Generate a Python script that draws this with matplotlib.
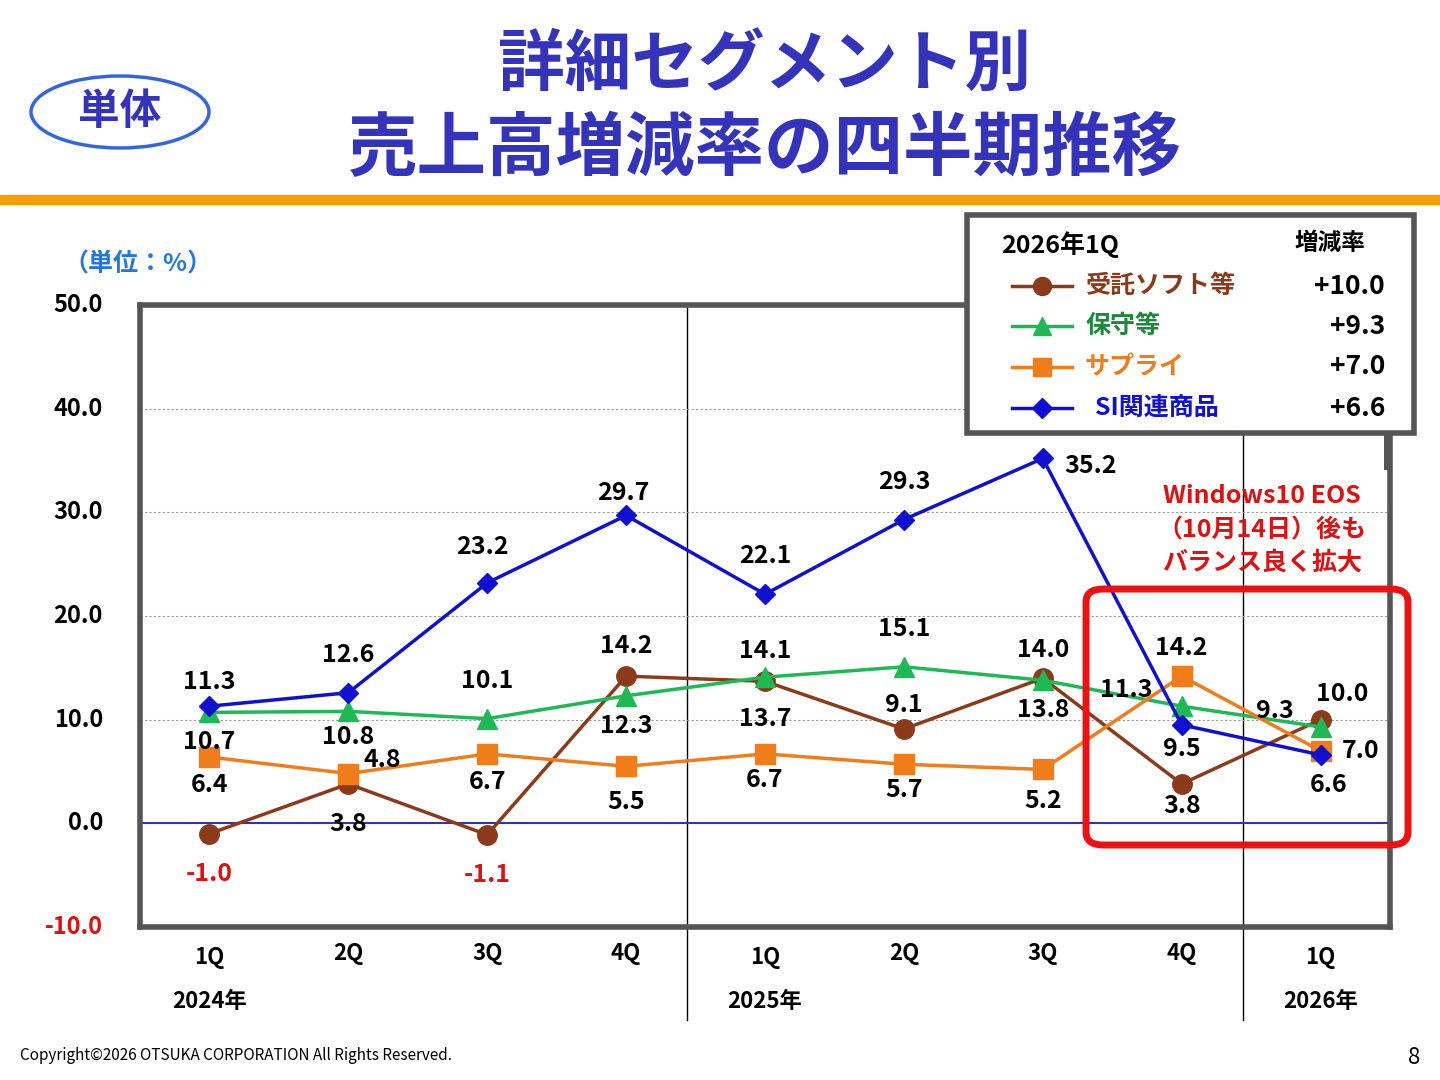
import matplotlib
matplotlib.use("Agg")
import matplotlib.pyplot as plt
from matplotlib.patches import FancyBboxPatch, Ellipse, Rectangle
from matplotlib.lines import Line2D

plt.rcParams['font.family'] = ['Noto Sans CJK JP', 'DejaVu Sans']

quarters = ["1Q", "2Q", "3Q", "4Q", "1Q", "2Q", "3Q", "4Q", "1Q"]
years = ["2024年", "2025年", "2026年"]
si = [11.3, 12.6, 23.2, 29.7, 22.1, 29.3, 35.2, 9.5, 6.6]
hoshu = [10.7, 10.8, 10.1, 12.3, 14.1, 15.1, 13.8, 11.3, 9.3]
supply = [6.4, 4.8, 6.7, 5.5, 6.7, 5.7, 5.2, 14.2, 7.0]
jutaku = [-1.0, 3.8, -1.1, 14.2, 13.7, 9.1, 14.0, 3.8, 10.0]
names = ["受託ソフト等", "保守等", "サプライ", "SI関連商品"]
latest = ["+10.0", "+9.3", "+7.0", "+6.6"]

# label offsets in pixels
off_si = [(0, 24), (0, 38), (-5, 36), (-3, 22), (0, 38), (0, 38), (48, -8), (0, -24), (8, -30)]
off_h = [(0, -30), (0, -26), (0, 38), (0, -30), (0, 26), (0, 38), (0, -30), (-55, 16), (-46, 16)]
off_s = [(0, -28), (34, 14), (0, -28), (0, -36), (0, -26), (0, -26), (0, -32), (0, 28), (40, 0)]
off_j = [(0, -40), (0, -40), (0, -40), (0, 30), (0, -38), (0, 24), (0, 28), (0, -22), (22, 26)]

fig = plt.figure(figsize=(14.4, 10.8), dpi=100)
ax = fig.add_axes([140/1440, 1-927/1080, 1250/1440, 622/1080])
x = list(range(len(quarters)))
ax.set_xlim(-0.5, 8.5)
ax.set_ylim(-10, 50)
for yv in [10, 20, 30, 40]:
    ax.axhline(yv, color='#999999', lw=0.8, ls=(0, (2, 2)))
ax.axhline(0, color='#3333aa', lw=1.5)
for s in ax.spines.values():
    s.set_color('#555555'); s.set_linewidth(4)
ax.set_xticks([]); ax.set_yticks([])
for yv in range(-10, 51, 10):
    fig.text(103/1440, (1-927/1080) + (yv+10)/60*622/1080, f"{yv:.1f}", ha='right', va='center',
             fontsize=17, fontweight='bold', color='#dd1111' if yv < 0 else 'black')

series = [(jutaku, '#8B3A1A', 'o', off_j), (hoshu, '#1DB954', '^', off_h),
          (supply, '#F07D1A', 's', off_s), (si, '#1010D0', 'D', off_si)]
order = [3, 1, 2, 0]
for i in order:
    vals, col, mk, offs = series[i]
    ms = 14 if mk != 'D' else 10
    ax.plot(x, vals, color=col, lw=2.5, marker=mk, ms=ms, zorder=3 + i)
for i in order:
    vals, col, mk, offs = series[i]
    for xi, v, o in zip(x, vals, offs):
        ax.annotate(f"{v:.1f}", (xi, v), xytext=o, textcoords='offset pixels', ha='center', va='center',
                    fontsize=18, fontweight='bold', color='#dd1111' if v < 0 else 'black', zorder=10)

for xv in [3.44, 7.44]:
    ax.plot([xv, xv], [-10, 50], color='black', lw=1, clip_on=False, zorder=1)
    ax.plot([xv, xv], [-10, -19], color='black', lw=1, clip_on=False)
for xi, q in zip(x, quarters):
    ax.text(xi, -12.9 if xi in (0, 4, 8) else -12.6, q, ha='center', va='center', fontsize=16, fontweight='bold')
for xi, yr in zip([0, 4, 8], years):
    ax.text(xi, -17.2, yr, ha='center', va='center', fontsize=16, fontweight='bold')

# title
fig.text(765/1440, 1-65/1080, "詳細セグメント別", ha='center', va='center', fontsize=48, fontweight='bold', color='#3333bb')
fig.text(765/1440, 1-150/1080, "売上高増減率の四半期推移", ha='center', va='center', fontsize=50, fontweight='bold', color='#3333bb')
fig.add_artist(Ellipse((120/1440, 1-112/1080), 178/1440, 72/1080, transform=fig.transFigure,
                       fill=False, ec='#3366dd', lw=2.5))
fig.text(120/1440, 1-112/1080, "単体", ha='center', va='center', fontsize=30, fontweight='bold', color='#3333bb')
fig.add_artist(Rectangle((0, 1-204/1080), 1, 9/1080, transform=fig.transFigure, color='#F5A000'))
fig.text(138/1440, 1-265/1080, "（単位：%）", ha='center', va='center', fontsize=18, fontweight='bold', color='#2277dd')
fig.text(20/1440, 1-1055/1080, "Copyright©2026 OTSUKA CORPORATION All Rights Reserved.", fontsize=11, va='center')
fig.text(1420/1440, 1-1057/1080, "8", fontsize=16, ha='right', va='center')

# legend box
fig.add_artist(Rectangle((967/1440, 1-433/1080), 447/1440, 218/1080, transform=fig.transFigure,
                         fc='white', ec='#555555', lw=4, zorder=20))
fig.add_artist(Rectangle((1384/1440, 1-470/1080), 6/1440, 37/1080, transform=fig.transFigure,
                         fc='#555555', ec='none', zorder=20))
fig.text(1060/1440, 1-245/1080, "2026年1Q", ha='center', va='center', fontsize=18, fontweight='bold', zorder=21)
fig.text(1330/1440, 1-243/1080, "増減率", ha='center', va='center', fontsize=17, fontweight='bold', zorder=21)
ys = [286, 326, 367, 408]
for i, (yy, nm, lt) in enumerate(zip(ys, names, latest)):
    vals, col, mk, offs = series[i]
    yf = 1 - yy/1080
    fig.add_artist(Line2D([1012/1440, 1072/1440], [yf, yf], transform=fig.transFigure, color=col, lw=2.5, zorder=21))
    fig.add_artist(Line2D([1042/1440], [yf], transform=fig.transFigure, color=col, marker=mk,
                          ms=13 if mk != 'D' else 10, zorder=22))
    tc = {'#1DB954': '#1a8a3a'}.get(col, col)
    fig.text((1085 if i < 3 else 1095)/1440, yf, nm, va='center', fontsize=18, fontweight='bold', color=tc, zorder=21)
    fig.text(1385/1440, yf, lt, ha='right', va='center', fontsize=19, fontweight='bold', zorder=21)

# highlight
fig.add_artist(FancyBboxPatch((1086/1440, 1-845/1080), 322/1440, 256/1080, transform=fig.transFigure,
                              boxstyle="round,pad=0,rounding_size=0.012", fill=False, ec='#ee1111', lw=5, zorder=15))
for yy, t in zip([496, 530, 562], ["Windows10 EOS", "（10月14日）後も", "バランス良く拡大"]):
    fig.text(1262/1440, 1-yy/1080, t, ha='center', va='center', fontsize=18, fontweight='bold', color='#dd1111')

fig.savefig("out.png", dpi=100)
